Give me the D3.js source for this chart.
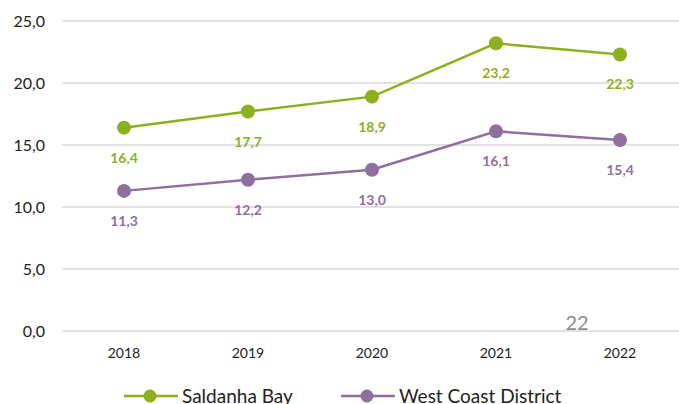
<!DOCTYPE html>
<html>
<head>
<meta charset="utf-8">
<script src="https://cdn.jsdelivr.net/npm/d3@7"></script>
<style>
  body { margin: 0; background: #fff; }
  text { font-family: "Lato", "DejaVu Sans", sans-serif; }
</style>
</head>
<body>
<div id="chart"></div>
<script>
var years = ["2018", "2019", "2020", "2021", "2022"];
var saldanha = [16.4, 17.7, 18.9, 23.2, 22.3];
var westCoast = [11.3, 12.2, 13.0, 16.1, 15.4];
var yTicks = [0, 5, 10, 15, 20, 25];
var seriesNames = ["Saldanha Bay", "West Coast District"];
var colors = ["#8DB01E", "#8F6F9D"];

var svg = d3.select("#chart").append("svg").attr("width", 679).attr("height", 404);

var x = d3.scaleBand().domain(years).range([62, 682]);
var y = d3.scaleLinear().domain([0, 25]).range([331, 21]);
var fmt = function(v) { return d3.format(".1f")(v).replace(".", ","); };

// gridlines
svg.append("g").selectAll("line").data(yTicks).enter().append("line")
  .attr("x1", 62).attr("x2", 679)
  .attr("y1", function(d) { return y(d); }).attr("y2", function(d) { return y(d); })
  .attr("stroke", "#d9d9d9").attr("stroke-width", 1.5);

// y axis labels
svg.append("g").selectAll("text").data(yTicks).enter().append("text")
  .attr("x", 45).attr("y", function(d) { return y(d) + 6; })
  .attr("text-anchor", "end").attr("font-size", 16).attr("fill", "#222")
  .text(fmt);

// x axis labels
svg.append("g").selectAll("text").data(years).enter().append("text")
  .attr("x", function(d) { return x(d) + x.bandwidth() / 2; }).attr("y", 358)
  .attr("text-anchor", "middle").attr("font-size", 14).attr("fill", "#222")
  .text(function(d) { return d; });

var line = d3.line()
  .x(function(d, i) { return x(years[i]) + x.bandwidth() / 2; })
  .y(function(d) { return y(d); });

[saldanha, westCoast].forEach(function(data, k) {
  var g = svg.append("g");
  g.append("path").datum(data).attr("d", line)
    .attr("fill", "none").attr("stroke", colors[k]).attr("stroke-width", 2.5);
  g.selectAll("circle").data(data).enter().append("circle")
    .attr("cx", function(d, i) { return x(years[i]) + x.bandwidth() / 2; })
    .attr("cy", function(d) { return y(d); })
    .attr("r", 7).attr("fill", colors[k]);
  g.selectAll("text").data(data).enter().append("text")
    .attr("x", function(d, i) { return x(years[i]) + x.bandwidth() / 2; })
    .attr("y", function(d) { return y(d) + 35; })
    .attr("text-anchor", "middle").attr("font-size", 14).attr("font-weight", "bold")
    .attr("fill", colors[k])
    .text(fmt);
});

// page number
svg.append("text").attr("x", 577).attr("y", 330).attr("text-anchor", "middle")
  .attr("font-size", 20).attr("fill", "#8c8c8c").text("22");

// legend
var legendX = [124, 341];
seriesNames.forEach(function(name, k) {
  var lg = svg.append("g").attr("transform", "translate(" + legendX[k] + ",396)");
  lg.append("line").attr("x1", 0).attr("x2", 54).attr("stroke", colors[k]).attr("stroke-width", 2.5);
  lg.append("circle").attr("cx", 26).attr("r", 6.5).attr("fill", colors[k]);
  lg.append("text").attr("x", 58).attr("y", 7).attr("font-size", 19).attr("fill", "#222").text(name);
});
</script>
</body>
</html>
